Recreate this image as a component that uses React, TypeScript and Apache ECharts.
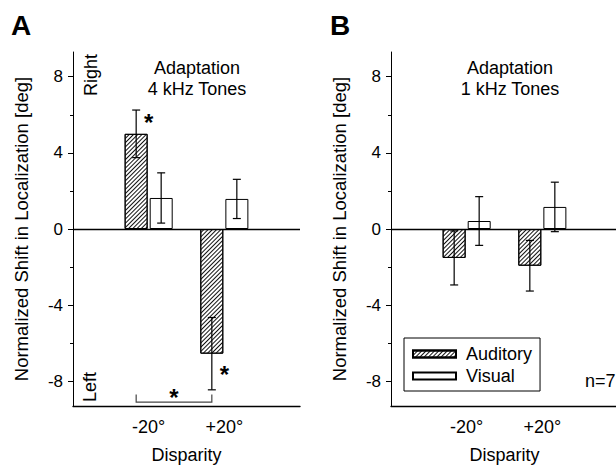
import React, { useEffect, useRef } from "react";
import * as echarts from "echarts";

const FONT = "'Liberation Sans', Arial, Helvetica, sans-serif";

const categories = ["", "-20°", "+20°", ""];
const yTickValues = [-8, -4, 0, 4, 8];
const yMinorTickValues = [-6, -2, 2, 6];
const seriesNames = ["Auditory", "Visual"];

// Panel A: adaptation with 4 kHz tones
const auditoryA = [null, 5.0, -6.55, null];
const auditoryAErr = [null, 1.25, 1.9, null];
const visualA = [null, 1.63, 1.58, null];
const visualAErr = [null, 1.32, 1.03, null];

// Panel B: adaptation with 1 kHz tones
const auditoryB = [null, -1.52, -1.93, null];
const auditoryBErr = [null, 1.42, 1.33, null];
const visualB = [null, 0.42, 1.16, null];
const visualBErr = [null, 1.28, 1.3, null];

// significance marks in panel A
const starsA = [
  [1, 6.25],
  [2, -7.0],
];
const bracketCatsA = [1, 2];
const bracketLevelsA = [-9.1, -8.7];

const BAR_W = 23;
const OFFSET = 12.5;
const CAP = 4;

const hatch = {
  symbol: "rect",
  symbolSize: 1,
  dashArrayX: [1, 0],
  dashArrayY: [1, 2],
  rotation: -Math.PI / 4,
  color: "#111",
  backgroundColor: "#fff",
};

function errorBarSeries(gridIndex: number, values: any[], errs: any[], offset: number) {
  const data = values
    .map((v, i) => (v == null ? null : [i, v, errs[i]]))
    .filter((d) => d != null);
  return {
    type: "custom",
    name: "err",
    xAxisIndex: gridIndex,
    yAxisIndex: gridIndex * 2,
    z: 5,
    silent: true,
    data,
    encode: { x: 0, y: 1 },
    renderItem: (params: any, api: any) => {
      const i = api.value(0);
      const v = api.value(1);
      const e = api.value(2);
      const top = api.coord([i, v + e]);
      const bot = api.coord([i, v - e]);
      const x = top[0] + offset;
      const st = { stroke: "#000", lineWidth: 1.2 };
      return {
        type: "group",
        children: [
          { type: "line", shape: { x1: x, y1: top[1], x2: x, y2: bot[1] }, style: st },
          { type: "line", shape: { x1: x - CAP, y1: top[1], x2: x + CAP, y2: top[1] }, style: st },
          { type: "line", shape: { x1: x - CAP, y1: bot[1], x2: x + CAP, y2: bot[1] }, style: st },
        ],
      };
    },
  };
}

function barSeries(name: string, gridIndex: number, values: any[], hatched: boolean) {
  const s: any = {
    type: "bar",
    name,
    xAxisIndex: gridIndex,
    yAxisIndex: gridIndex * 2,
    data: values,
    barWidth: BAR_W,
    barGap: "9%",
    silent: true,
    itemStyle: {
      color: "#fff",
      borderColor: "#000",
      borderWidth: 1,
      ...(hatched ? { decal: hatch } : {}),
    },
  };
  if (hatched) {
    s.markLine = {
      silent: true,
      symbol: ["none", "none"],
      label: { show: false },
      lineStyle: { color: "#000", type: "solid", width: 1.3 },
      data: [{ yAxis: 0 }],
      z: 6,
    };
  }
  return s;
}

function makeXAxis(gridIndex: number) {
  return {
    type: "category",
    gridIndex,
    data: categories,
    boundaryGap: false,
    axisLine: { onZero: false, lineStyle: { color: "#000", width: 1.4 } },
    axisTick: { show: false },
    axisLabel: { interval: 0, color: "#000", fontSize: 18, fontFamily: FONT, margin: 12 },
    name: "Disparity",
    nameLocation: "middle",
    nameGap: 40,
    nameTextStyle: { color: "#000", fontSize: 18, lineHeight: 18, fontFamily: FONT },
    splitLine: { show: false },
  };
}

function makeYAxes(gridIndex: number) {
  return [
    {
      type: "value",
      gridIndex,
      min: -9.3,
      max: 9.3,
      position: "left",
      axisLine: { show: true, lineStyle: { color: "#000", width: 1 } },
      axisTick: { show: true, customValues: yTickValues, length: 5, lineStyle: { color: "#000" } },
      axisLabel: { customValues: yTickValues, color: "#000", fontSize: 17, fontFamily: FONT, margin: 10 },
      splitLine: { show: false },
      name: "Normalized Shift in Localization [deg]",
      nameLocation: "middle",
      nameGap: 42,
      nameTextStyle: { color: "#000", fontSize: 18.5, fontFamily: FONT },
    },
    {
      type: "value",
      gridIndex,
      min: -9.3,
      max: 9.3,
      position: "left",
      axisLine: { show: false },
      axisTick: { show: true, customValues: yMinorTickValues, length: 3, lineStyle: { color: "#000" } },
      axisLabel: { show: false },
      splitLine: { show: false },
    },
  ];
}

function starSeries() {
  return {
    type: "custom",
    name: "stars",
    xAxisIndex: 0,
    yAxisIndex: 0,
    z: 7,
    silent: true,
    data: starsA,
    encode: { x: 0, y: 1 },
    renderItem: (params: any, api: any) => {
      const p = api.coord([api.value(0), api.value(1)]);
      return {
        type: "text",
        x: p[0],
        y: p[1],
        style: {
          text: "*",
          fontSize: 24,
          fontWeight: "bold",
          fontFamily: FONT,
          fill: "#000",
          align: "center",
          verticalAlign: "top",
        },
      };
    },
  };
}

function bracketSeries() {
  return {
    type: "custom",
    name: "bracket",
    xAxisIndex: 0,
    yAxisIndex: 0,
    z: 7,
    silent: true,
    data: [[bracketCatsA[0], bracketLevelsA[0]]],
    encode: { x: 0, y: 1 },
    renderItem: (params: any, api: any) => {
      const a = api.coord([bracketCatsA[0], bracketLevelsA[0]]);
      const b = api.coord([bracketCatsA[1], bracketLevelsA[0]]);
      const t = api.coord([bracketCatsA[0], bracketLevelsA[1]])[1];
      const x1 = a[0] - OFFSET;
      const x2 = b[0] - OFFSET;
      const y = a[1];
      return {
        type: "group",
        children: [
          {
            type: "polyline",
            shape: { points: [[x1, t], [x1, y], [x2, y], [x2, t]] },
            style: { stroke: "#444", lineWidth: 1.2, fill: null },
          },
          {
            type: "text",
            x: (x1 + x2) / 2,
            y: y - 17,
            style: {
              text: "*",
              fontSize: 24,
              fontWeight: "bold",
              fontFamily: FONT,
              fill: "#000",
              align: "center",
              verticalAlign: "top",
            },
          },
        ],
      };
    },
  };
}

function label(text: string, x: number, y: number, extra: any = {}, rotation = 0) {
  return {
    type: "text",
    x,
    y,
    rotation,
    silent: true,
    style: {
      text,
      fontSize: 18,
      fontFamily: FONT,
      fill: "#000",
      align: "center",
      verticalAlign: "middle",
      lineHeight: 21,
      ...extra,
    },
  };
}

export default function App() {
  const ref = useRef<HTMLDivElement>(null);
  useEffect(() => {
    if (!ref.current) return;
    const chart = echarts.init(ref.current, undefined, { renderer: "svg" });
    chart.setOption({
      animation: false,
      backgroundColor: "#fff",
      textStyle: { fontFamily: FONT },
      grid: [
        { left: 73, top: 52, width: 227, height: 354, containLabel: false, outerBoundsMode: "none" },
        { left: 391, top: 52, width: 227, height: 354, containLabel: false, outerBoundsMode: "none" },
      ],
      xAxis: [makeXAxis(0), makeXAxis(1)],
      yAxis: [...makeYAxes(0), ...makeYAxes(1)],
      legend: {
        data: seriesNames,
        orient: "vertical",
        left: 404,
        top: 338,
        itemWidth: 43,
        itemHeight: 7,
        itemGap: 4,
        padding: [7, 8, 6, 8],
        borderColor: "#000",
        borderWidth: 1,
        borderRadius: 0,
        icon: "rect",
        selectedMode: false,
        textStyle: { fontSize: 18, color: "#000", fontFamily: FONT, padding: [0, 0, 0, 5] },
      },
      series: [
        barSeries("Auditory", 0, auditoryA, true),
        barSeries("Visual", 0, visualA, false),
        barSeries("Auditory", 1, auditoryB, true),
        barSeries("Visual", 1, visualB, false),
        errorBarSeries(0, auditoryA, auditoryAErr, -OFFSET),
        errorBarSeries(0, visualA, visualAErr, OFFSET),
        errorBarSeries(1, auditoryB, auditoryBErr, -OFFSET),
        errorBarSeries(1, visualB, visualBErr, OFFSET),
        starSeries(),
        bracketSeries(),
      ],
      graphic: [
        label("A", 21, 25, { fontSize: 28, fontWeight: "bold" }),
        label("B", 340, 25, { fontSize: 28, fontWeight: "bold" }),
        label("Adaptation\n4 kHz Tones", 197, 78),
        label("Adaptation\n1 kHz Tones", 510, 78),
        label("Right", 91, 75, {}, Math.PI / 2),
        label("Left", 90, 387, {}, Math.PI / 2),
        label("n=7", 585, 381, { align: "left" }),
      ],
    });
    return () => chart.dispose();
  }, []);
  return (
    <div
      ref={ref}
      style={{ position: "absolute", left: 0, top: 0, width: 616, height: 465 }}
    />
  );
}
